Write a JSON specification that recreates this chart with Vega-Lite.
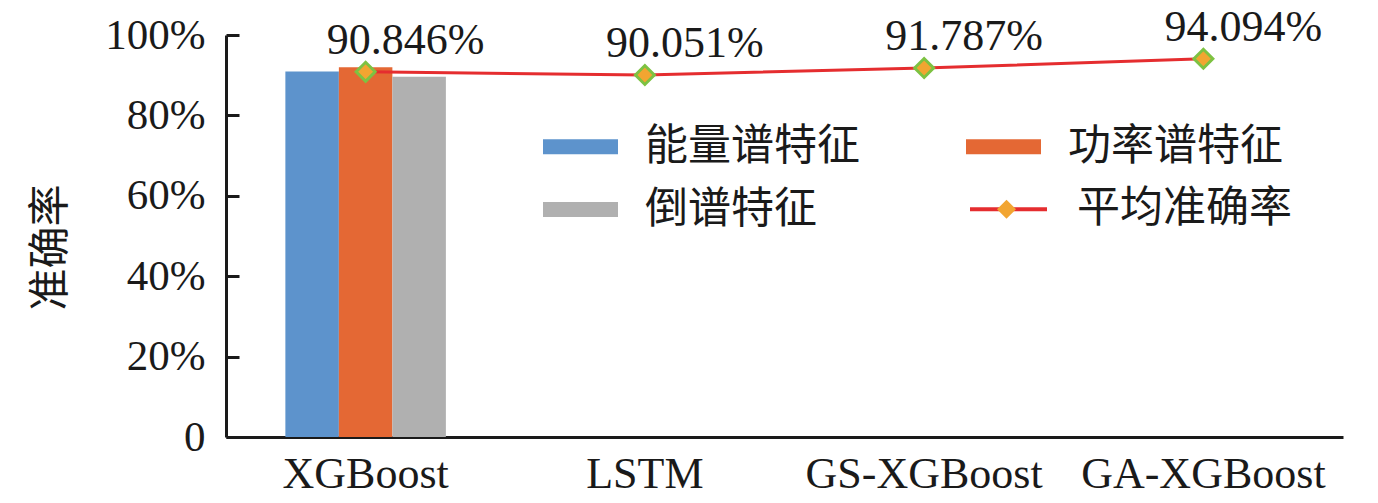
{
  "$schema": "https://vega.github.io/schema/vega-lite/v6.json",
  "width": 1117,
  "height": 402,
  "autosize": {"type": "none"},
  "padding": {"left": 226, "top": 35, "right": 35, "bottom": 66},
  "background": "white",
  "config": {
    "view": {"stroke": null},
    "axis": {"grid": false, "domainColor": "#1a1a1a", "domainWidth": 3, "tickColor": "#1a1a1a", "tickWidth": 3, "labelColor": "#1a1a1a", "labelFont": "Liberation Serif", "labelFontSize": 43, "labelLimit": 0}
  },
  "datasets": {
    "bars": [
      {"model": "XGBoost", "feature": "能量谱特征", "value": 0.909},
      {"model": "XGBoost", "feature": "功率谱特征", "value": 0.920},
      {"model": "XGBoost", "feature": "倒谱特征", "value": 0.896}
    ],
    "avg": [
      {"model": "XGBoost", "avg": 0.90846},
      {"model": "LSTM", "avg": 0.90051},
      {"model": "GS-XGBoost", "avg": 0.91787},
      {"model": "GA-XGBoost", "avg": 0.94094}
    ]
  },
  "encoding": {
    "x": {
      "field": "model", "type": "nominal",
      "scale": {"domain": ["XGBoost", "LSTM", "GS-XGBoost", "GA-XGBoost"], "paddingInner": 0.042, "paddingOuter": 0.021},
      "axis": {"title": null, "ticks": false, "labelAngle": 0, "labelPadding": 15, "labelFontSize": 44, "labelLimit": 0}
    },
    "y": {
      "type": "quantitative",
      "scale": {"domain": [0, 1], "nice": false},
      "axis": {
        "values": [0, 0.2, 0.4, 0.6, 0.8, 1],
        "labelExpr": "datum.value === 0 ? '0' : format(datum.value, '.0%')",
        "tickSize": -13, "labelPadding": 34,
        "title": "准确率", "titleFont": "Noto Sans CJK SC", "titleFontSize": 42, "titleFontWeight": "normal", "titleColor": "#1a1a1a",
        "titleX": -176, "titleY": 212, "titleAngle": -90, "titleAlign": "center", "titleBaseline": "middle"
      }
    }
  },
  "layer": [
    {
      "data": {"name": "bars"},
      "mark": {"type": "bar"},
      "encoding": {
        "y": {"field": "value", "type": "quantitative"},
        "xOffset": {"field": "feature", "type": "nominal", "scale": {"domain": ["能量谱特征", "功率谱特征", "倒谱特征"], "paddingInner": 0, "paddingOuter": 1}},
        "color": {
          "field": "feature", "type": "nominal",
          "scale": {"domain": ["能量谱特征", "功率谱特征", "倒谱特征"], "range": ["#5D93CC", "#E46834", "#B0B0B0"]},
          "legend": {
            "orient": "none", "legendX": 317, "legendY": 90, "columns": 2, "direction": "horizontal", "columnPadding": 106, "rowPadding": 19,
            "symbolType": "M-1,-0.2H1V0.2H-1Z", "symbolSize": 5625, "symbolStrokeWidth": 0,
            "labelFont": "Noto Sans CJK SC", "labelFontSize": 43, "labelColor": "#1a1a1a", "labelOffset": 27, "labelLimit": 0,
            "clipHeight": 43, "title": null, "padding": 0
          }
        }
      }
    },
    {
      "data": {"name": "avg"},
      "mark": {"type": "line", "strokeWidth": 3},
      "encoding": {
        "y": {"field": "avg", "type": "quantitative"},
        "stroke": {
          "datum": "平均准确率",
          "scale": {"range": ["#E52D2F"]},
          "legend": {
            "orient": "none", "legendX": 742, "legendY": 152.8,
            "symbolType": "stroke", "symbolSize": 5929, "symbolStrokeWidth": 4,
            "labelFont": "Noto Sans CJK SC", "labelFontSize": 43, "labelColor": "#1a1a1a", "labelOffset": 28, "labelLimit": 0,
            "clipHeight": 43, "title": null, "padding": 0
          }
        }
      }
    },
    {
      "data": {"name": "avg"},
      "mark": {"type": "point", "filled": true, "fill": "#F2A531", "stroke": "#7DC242", "strokeWidth": 3, "size": 360, "opacity": 1},
      "encoding": {
        "y": {"field": "avg", "type": "quantitative"},
        "shape": {
          "datum": "marker",
          "scale": {"range": ["diamond"]},
          "legend": {
            "orient": "none", "legendX": 769.5, "legendY": 152.8,
            "labelExpr": "''", "symbolSize": 360, "symbolFillColor": "#F2A531", "symbolStrokeColor": "#7DC242", "symbolStrokeWidth": 3, "symbolOpacity": 1,
            "clipHeight": 43, "title": null, "padding": 0
          }
        }
      }
    },
    {
      "data": {"name": "avg"},
      "mark": {"type": "text", "font": "Liberation Serif", "fontSize": 44, "color": "#1a1a1a", "align": "center", "baseline": "alphabetic", "dx": 40, "dy": -18},
      "encoding": {
        "y": {"field": "avg", "type": "quantitative"},
        "text": {"field": "avg", "type": "quantitative", "format": ".3%"}
      }
    }
  ]
}
